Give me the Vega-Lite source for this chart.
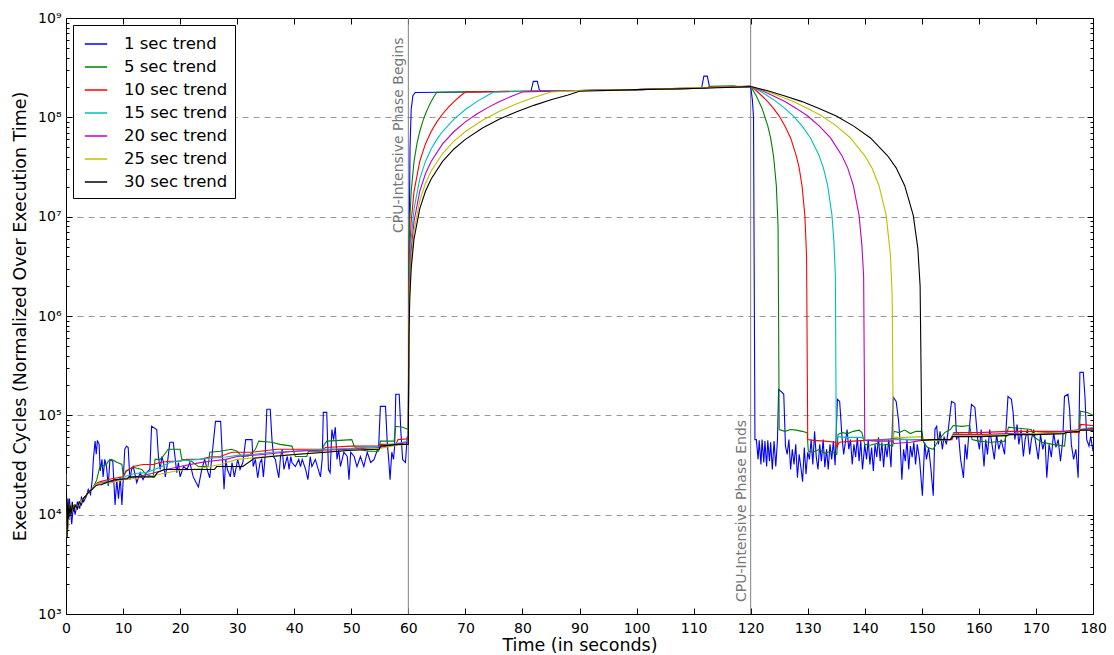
{
  "$schema": "https://vega.github.io/schema/vega-lite/v6.json",
  "width": 1027,
  "height": 596,
  "autosize": {"type": "none"},
  "padding": {"left": 66, "top": 18, "right": 21, "bottom": 41},
  "background": "white",
  "config": {
    "font": "DejaVu Sans",
    "view": {"stroke": "black", "strokeWidth": 1},
    "axis": {"labelFont": "DejaVu Sans", "titleFont": "DejaVu Sans", "labelColor": "black", "titleColor": "black", "tickColor": "black", "domain": false, "labelFlush": false, "labelOverlap": false, "titleFontWeight": "normal"}
  },
  "datasets": {
    "series": [
      {"n":1,"t":0,"v":12500},{"n":1,"t":0.3,"v":9000},{"n":1,"t":0.6,"v":14500},{"n":1,"t":1.0,"v":8000},{"n":1,"t":1.3,"v":12500},{"n":1,"t":1.6,"v":10000},{"n":1,"t":2.0,"v":13500},{"n":1,"t":2.4,"v":11500},{"n":1,"t":2.7,"v":15000},{"n":1,"t":3.1,"v":13500},{"n":1,"t":3.6,"v":15500},{"n":1,"t":3.9,"v":18000},{"n":1,"t":4.3,"v":16000},{"n":1,"t":4.6,"v":22500},{"n":1,"t":4.8,"v":36000},{"n":1,"t":5.1,"v":55000},{"n":1,"t":5.3,"v":40500},{"n":1,"t":5.5,"v":56000},{"n":1,"t":5.8,"v":51000},{"n":1,"t":6.0,"v":27500},{"n":1,"t":6.3,"v":36000},{"n":1,"t":6.5,"v":24000},{"n":1,"t":6.8,"v":36000},{"n":1,"t":7.1,"v":30500},{"n":1,"t":7.4,"v":19500},{"n":1,"t":7.7,"v":36000},{"n":1,"t":8.2,"v":34500},{"n":1,"t":8.6,"v":12500},{"n":1,"t":8.9,"v":22500},{"n":1,"t":9.2,"v":14500},{"n":1,"t":9.5,"v":24000},{"n":1,"t":9.8,"v":12500},{"n":1,"t":10.3,"v":45500},{"n":1,"t":10.6,"v":49000},{"n":1,"t":10.9,"v":47500},{"n":1,"t":11.2,"v":22500},{"n":1,"t":11.5,"v":28500},{"n":1,"t":11.8,"v":30500},{"n":1,"t":12.4,"v":21000},{"n":1,"t":13.0,"v":26500},{"n":1,"t":13.5,"v":22500},{"n":1,"t":14.1,"v":26500},{"n":1,"t":14.7,"v":28500},{"n":1,"t":15.0,"v":77500},{"n":1,"t":15.9,"v":72000},{"n":1,"t":16.2,"v":38500},{"n":1,"t":16.5,"v":28500},{"n":1,"t":16.8,"v":38500},{"n":1,"t":17.1,"v":33500},{"n":1,"t":17.4,"v":24000},{"n":1,"t":17.7,"v":30500},{"n":1,"t":18.2,"v":53500},{"n":1,"t":18.8,"v":53500},{"n":1,"t":19.1,"v":38500},{"n":1,"t":19.4,"v":26500},{"n":1,"t":19.7,"v":33500},{"n":1,"t":20.0,"v":24000},{"n":1,"t":20.6,"v":30500},{"n":1,"t":21.2,"v":28500},{"n":1,"t":21.7,"v":33500},{"n":1,"t":22.3,"v":24000},{"n":1,"t":23.2,"v":19000},{"n":1,"t":23.8,"v":28500},{"n":1,"t":24.3,"v":36000},{"n":1,"t":24.9,"v":26500},{"n":1,"t":25.2,"v":23500},{"n":1,"t":26.2,"v":87000},{"n":1,"t":27.1,"v":87000},{"n":1,"t":27.4,"v":38500},{"n":1,"t":27.7,"v":18000},{"n":1,"t":28.0,"v":36000},{"n":1,"t":28.3,"v":28500},{"n":1,"t":28.8,"v":24000},{"n":1,"t":29.1,"v":33500},{"n":1,"t":29.5,"v":24000},{"n":1,"t":30.1,"v":36000},{"n":1,"t":30.5,"v":28500},{"n":1,"t":31.0,"v":33500},{"n":1,"t":31.5,"v":57000},{"n":1,"t":32.6,"v":57000},{"n":1,"t":32.8,"v":30500},{"n":1,"t":33.2,"v":36000},{"n":1,"t":33.6,"v":23500},{"n":1,"t":34.0,"v":33500},{"n":1,"t":34.3,"v":36000},{"n":1,"t":34.6,"v":24000},{"n":1,"t":34.9,"v":38500},{"n":1,"t":35.2,"v":115000},{"n":1,"t":35.8,"v":115000},{"n":1,"t":36.1,"v":57000},{"n":1,"t":36.4,"v":38000},{"n":1,"t":36.7,"v":36000},{"n":1,"t":37.0,"v":28500},{"n":1,"t":37.3,"v":23500},{"n":1,"t":37.6,"v":38500},{"n":1,"t":37.9,"v":45500},{"n":1,"t":38.2,"v":28500},{"n":1,"t":38.5,"v":33500},{"n":1,"t":38.8,"v":38500},{"n":1,"t":39.1,"v":28500},{"n":1,"t":39.4,"v":38500},{"n":1,"t":39.6,"v":33500},{"n":1,"t":40.2,"v":30500},{"n":1,"t":40.8,"v":36000},{"n":1,"t":41.1,"v":30500},{"n":1,"t":41.4,"v":36000},{"n":1,"t":42.0,"v":28500},{"n":1,"t":42.4,"v":22500},{"n":1,"t":42.8,"v":38500},{"n":1,"t":43.1,"v":30500},{"n":1,"t":43.7,"v":36000},{"n":1,"t":44.6,"v":24000},{"n":1,"t":44.9,"v":36000},{"n":1,"t":45.1,"v":107000},{"n":1,"t":45.7,"v":107000},{"n":1,"t":46.0,"v":28500},{"n":1,"t":46.3,"v":26500},{"n":1,"t":46.6,"v":72000},{"n":1,"t":46.9,"v":57000},{"n":1,"t":47.2,"v":76000},{"n":1,"t":47.5,"v":36000},{"n":1,"t":47.8,"v":45500},{"n":1,"t":48.1,"v":30500},{"n":1,"t":48.7,"v":42500},{"n":1,"t":49.3,"v":38500},{"n":1,"t":49.6,"v":22500},{"n":1,"t":49.9,"v":42500},{"n":1,"t":50.5,"v":38500},{"n":1,"t":51.0,"v":30500},{"n":1,"t":51.6,"v":38500},{"n":1,"t":52.2,"v":30500},{"n":1,"t":52.8,"v":42500},{"n":1,"t":53.4,"v":33500},{"n":1,"t":54.0,"v":36000},{"n":1,"t":54.8,"v":49000},{"n":1,"t":55.1,"v":123000},{"n":1,"t":56.0,"v":123000},{"n":1,"t":56.3,"v":53500},{"n":1,"t":56.6,"v":33500},{"n":1,"t":56.8,"v":22500},{"n":1,"t":57.1,"v":42500},{"n":1,"t":57.4,"v":36000},{"n":1,"t":57.6,"v":49000},{"n":1,"t":57.8,"v":163000},{"n":1,"t":58.4,"v":163000},{"n":1,"t":58.7,"v":67000},{"n":1,"t":59.0,"v":36000},{"n":1,"t":59.5,"v":33500},{"n":1,"t":59.8,"v":61000},{"n":1,"t":60.0,"v":57000},
      {"n":1,"t":60.1,"v":3000000},{"n":1,"t":60.3,"v":50000000},{"n":1,"t":60.5,"v":120000000},{"n":1,"t":60.8,"v":165000000},{"n":1,"t":61.2,"v":178000000},{"n":1,"t":70,"v":180000000},{"n":1,"t":81.5,"v":183000000},{"n":1,"t":81.9,"v":230000000},{"n":1,"t":82.6,"v":230000000},{"n":1,"t":83.0,"v":185000000},{"n":1,"t":90,"v":186000000},{"n":1,"t":100,"v":190000000},{"n":1,"t":111.4,"v":196000000},{"n":1,"t":111.8,"v":260000000},{"n":1,"t":112.4,"v":260000000},{"n":1,"t":112.8,"v":200000000},{"n":1,"t":120,"v":205000000},{"n":1,"t":120.3,"v":150000000},{"n":1,"t":120.5,"v":100000000},{"n":1,"t":120.75,"v":57000},
      {"n":1,"t":121.0,"v":57000},{"n":1,"t":121.3,"v":36000},{"n":1,"t":121.5,"v":56000},{"n":1,"t":121.8,"v":32000},{"n":1,"t":122.0,"v":57000},{"n":1,"t":122.3,"v":33500},{"n":1,"t":122.5,"v":55000},{"n":1,"t":122.8,"v":30500},{"n":1,"t":123.0,"v":56000},{"n":1,"t":123.3,"v":34500},{"n":1,"t":123.5,"v":53500},{"n":1,"t":123.8,"v":28500},{"n":1,"t":124.1,"v":55000},{"n":1,"t":124.4,"v":30500},{"n":1,"t":124.7,"v":57000},{"n":1,"t":124.9,"v":183000},{"n":1,"t":125.5,"v":170000},{"n":1,"t":125.8,"v":163000},{"n":1,"t":126.1,"v":49000},{"n":1,"t":126.4,"v":40500},{"n":1,"t":126.7,"v":57000},{"n":1,"t":127.0,"v":28500},{"n":1,"t":127.3,"v":45500},{"n":1,"t":127.6,"v":32000},{"n":1,"t":127.9,"v":51000},{"n":1,"t":128.2,"v":23500},{"n":1,"t":128.5,"v":40500},{"n":1,"t":128.8,"v":30000},{"n":1,"t":129.1,"v":21500},{"n":1,"t":129.4,"v":47500},{"n":1,"t":129.7,"v":25500},{"n":1,"t":130.0,"v":42500},{"n":1,"t":130.3,"v":36000},{"n":1,"t":130.6,"v":57000},{"n":1,"t":130.9,"v":32000},{"n":1,"t":131.2,"v":69000},{"n":1,"t":131.5,"v":38000},{"n":1,"t":131.8,"v":28500},{"n":1,"t":132.1,"v":51000},{"n":1,"t":132.4,"v":34500},{"n":1,"t":132.7,"v":57000},{"n":1,"t":133.0,"v":30000},{"n":1,"t":133.3,"v":45500},{"n":1,"t":133.6,"v":28500},{"n":1,"t":133.9,"v":51000},{"n":1,"t":134.2,"v":36000},{"n":1,"t":134.5,"v":55000},{"n":1,"t":134.8,"v":31500},{"n":1,"t":135.2,"v":145000},{"n":1,"t":135.6,"v":138000},{"n":1,"t":136.0,"v":61000},{"n":1,"t":136.3,"v":40500},{"n":1,"t":136.6,"v":53500},{"n":1,"t":136.9,"v":72000},{"n":1,"t":137.2,"v":45500},{"n":1,"t":137.5,"v":57000},{"n":1,"t":137.8,"v":32000},{"n":1,"t":138.1,"v":51000},{"n":1,"t":138.4,"v":38000},{"n":1,"t":138.7,"v":60000},{"n":1,"t":139.0,"v":34500},{"n":1,"t":139.3,"v":55000},{"n":1,"t":139.6,"v":28500},{"n":1,"t":140.0,"v":51000},{"n":1,"t":140.3,"v":36000},{"n":1,"t":140.6,"v":57000},{"n":1,"t":140.9,"v":32000},{"n":1,"t":141.2,"v":47500},{"n":1,"t":141.5,"v":27500},{"n":1,"t":141.8,"v":51000},{"n":1,"t":142.1,"v":38000},{"n":1,"t":142.4,"v":60000},{"n":1,"t":142.7,"v":34500},{"n":1,"t":143.0,"v":53500},{"n":1,"t":143.3,"v":30000},{"n":1,"t":143.6,"v":51000},{"n":1,"t":143.9,"v":38000},{"n":1,"t":144.2,"v":57000},{"n":1,"t":144.6,"v":30000},{"n":1,"t":145.0,"v":152000},{"n":1,"t":145.5,"v":138000},{"n":1,"t":145.9,"v":91000},{"n":1,"t":146.2,"v":53500},{"n":1,"t":146.5,"v":22500},{"n":1,"t":146.8,"v":45500},{"n":1,"t":147.1,"v":34500},{"n":1,"t":147.4,"v":57000},{"n":1,"t":147.7,"v":28500},{"n":1,"t":148.0,"v":49000},{"n":1,"t":148.3,"v":38000},{"n":1,"t":148.6,"v":53500},{"n":1,"t":148.9,"v":32000},{"n":1,"t":149.2,"v":51000},{"n":1,"t":149.6,"v":36000},{"n":1,"t":150.1,"v":15500},{"n":1,"t":150.5,"v":53500},{"n":1,"t":150.8,"v":36000},{"n":1,"t":151.2,"v":47500},{"n":1,"t":151.6,"v":28500},{"n":1,"t":152.0,"v":15500},{"n":1,"t":152.3,"v":72000},{"n":1,"t":152.6,"v":77500},{"n":1,"t":152.9,"v":51000},{"n":1,"t":153.2,"v":69000},{"n":1,"t":153.6,"v":45500},{"n":1,"t":153.9,"v":61000},{"n":1,"t":154.3,"v":51000},{"n":1,"t":154.6,"v":69000},{"n":1,"t":155.2,"v":138000},{"n":1,"t":155.8,"v":132000},{"n":1,"t":156.1,"v":57000},{"n":1,"t":156.4,"v":67000},{"n":1,"t":156.8,"v":36000},{"n":1,"t":157.3,"v":23500},{"n":1,"t":157.6,"v":51000},{"n":1,"t":157.9,"v":36000},{"n":1,"t":158.2,"v":61000},{"n":1,"t":158.7,"v":129000},{"n":1,"t":159.3,"v":120000},{"n":1,"t":159.8,"v":57000},{"n":1,"t":160.1,"v":45500},{"n":1,"t":160.4,"v":72000},{"n":1,"t":160.9,"v":30500},{"n":1,"t":161.2,"v":57000},{"n":1,"t":161.5,"v":40500},{"n":1,"t":161.9,"v":72000},{"n":1,"t":162.3,"v":51000},{"n":1,"t":162.7,"v":36000},{"n":1,"t":163.1,"v":64000},{"n":1,"t":163.5,"v":45500},{"n":1,"t":163.9,"v":57000},{"n":1,"t":164.5,"v":40500},{"n":1,"t":165.1,"v":155000},{"n":1,"t":165.7,"v":145000},{"n":1,"t":166.0,"v":107000},{"n":1,"t":166.3,"v":57000},{"n":1,"t":166.7,"v":81000},{"n":1,"t":167.0,"v":51000},{"n":1,"t":167.4,"v":72000},{"n":1,"t":167.8,"v":38500},{"n":1,"t":168.1,"v":57000},{"n":1,"t":168.5,"v":72000},{"n":1,"t":168.9,"v":40500},{"n":1,"t":169.2,"v":57000},{"n":1,"t":169.6,"v":72000},{"n":1,"t":170.0,"v":51000},{"n":1,"t":170.4,"v":36000},{"n":1,"t":170.8,"v":64000},{"n":1,"t":171.2,"v":45500},{"n":1,"t":171.6,"v":57000},{"n":1,"t":171.9,"v":23500},{"n":1,"t":172.3,"v":51000},{"n":1,"t":172.7,"v":38000},{"n":1,"t":173.1,"v":67000},{"n":1,"t":173.5,"v":47500},{"n":1,"t":173.9,"v":57000},{"n":1,"t":174.3,"v":34500},{"n":1,"t":174.7,"v":57000},{"n":1,"t":175.0,"v":155000},{"n":1,"t":175.6,"v":163000},{"n":1,"t":175.9,"v":115000},{"n":1,"t":176.2,"v":51000},{"n":1,"t":176.6,"v":36000},{"n":1,"t":177.0,"v":45500},{"n":1,"t":177.4,"v":23500},{"n":1,"t":177.7,"v":271000},{"n":1,"t":178.3,"v":271000},{"n":1,"t":178.6,"v":152000},{"n":1,"t":178.9,"v":57000},{"n":1,"t":179.3,"v":49000},{"n":1,"t":179.6,"v":61000},{"n":1,"t":180.0,"v":43500},

      {"n":5,"t":0,"v":25500},{"n":5,"t":0.2,"v":6000},{"n":5,"t":0.5,"v":12500},{"n":5,"t":1.0,"v":10800},{"n":5,"t":1.5,"v":12500},{"n":5,"t":2.0,"v":11500},{"n":5,"t":2.5,"v":13500},{"n":5,"t":3.0,"v":14500},{"n":5,"t":3.5,"v":15500},{"n":5,"t":4.0,"v":17000},{"n":5,"t":4.5,"v":18000},{"n":5,"t":5.0,"v":20000},{"n":5,"t":5.4,"v":22500},{"n":5,"t":5.9,"v":30000},{"n":5,"t":7.1,"v":32000},{"n":5,"t":7.4,"v":34500},{"n":5,"t":8.0,"v":36000},{"n":5,"t":9.0,"v":33500},{"n":5,"t":9.8,"v":32000},{"n":5,"t":10.05,"v":24000},{"n":5,"t":10.5,"v":27500},{"n":5,"t":11.8,"v":30000},{"n":5,"t":13.3,"v":28500},{"n":5,"t":14.0,"v":25500},{"n":5,"t":15.3,"v":24000},{"n":5,"t":15.6,"v":36000},{"n":5,"t":16.5,"v":36000},{"n":5,"t":17.0,"v":38500},{"n":5,"t":17.9,"v":45500},{"n":5,"t":20.0,"v":45500},{"n":5,"t":20.3,"v":36000},{"n":5,"t":22.0,"v":34500},{"n":5,"t":23.2,"v":30500},{"n":5,"t":24.9,"v":30500},{"n":5,"t":25.2,"v":42500},{"n":5,"t":27.0,"v":43500},{"n":5,"t":29.0,"v":45500},{"n":5,"t":30.0,"v":43500},{"n":5,"t":30.8,"v":38500},{"n":5,"t":32.0,"v":39000},{"n":5,"t":33.2,"v":45500},{"n":5,"t":33.8,"v":55000},{"n":5,"t":36.0,"v":53500},{"n":5,"t":37.5,"v":51000},{"n":5,"t":39.6,"v":49000},{"n":5,"t":40.2,"v":38500},{"n":5,"t":42.2,"v":38500},{"n":5,"t":42.5,"v":43500},{"n":5,"t":45.0,"v":43500},{"n":5,"t":45.1,"v":49000},{"n":5,"t":45.7,"v":55000},{"n":5,"t":48.0,"v":56000},{"n":5,"t":50.1,"v":57000},{"n":5,"t":50.5,"v":49000},{"n":5,"t":51.3,"v":45500},{"n":5,"t":53.0,"v":43500},{"n":5,"t":54.8,"v":43500},{"n":5,"t":55.1,"v":55000},{"n":5,"t":57.5,"v":55000},{"n":5,"t":57.8,"v":77500},{"n":5,"t":59.0,"v":76000},{"n":5,"t":60.0,"v":72000},
      {"n":5,"t":60.1,"v":3600000},{"n":5,"t":60.25,"v":9000000},{"n":5,"t":60.5,"v":18000000},{"n":5,"t":61,"v":36000000},{"n":5,"t":61.5,"v":54000000},{"n":5,"t":62,"v":72000000},{"n":5,"t":62.5,"v":90000000},{"n":5,"t":63,"v":108000000},{"n":5,"t":63.5,"v":126000000},{"n":5,"t":64,"v":144000000},{"n":5,"t":64.5,"v":162000000},{"n":5,"t":65,"v":179000000},{"n":5,"t":90,"v":186000000},{"n":5,"t":100,"v":190000000},{"n":5,"t":112,"v":196000000},{"n":5,"t":113,"v":205000000},{"n":5,"t":117,"v":208000000},{"n":5,"t":118,"v":203000000},{"n":5,"t":120,"v":205000000},
      {"n":5,"t":121,"v":164000000},{"n":5,"t":122,"v":123000000},{"n":5,"t":123,"v":82000000},{"n":5,"t":123.5,"v":62000000},{"n":5,"t":124,"v":41000000},{"n":5,"t":124.5,"v":20500000},{"n":5,"t":124.8,"v":8000000},{"n":5,"t":125,"v":72000},{"n":5,"t":126,"v":69000},{"n":5,"t":127,"v":72000},{"n":5,"t":128,"v":71000},{"n":5,"t":129,"v":69000},{"n":5,"t":129.9,"v":67000},{"n":5,"t":130.1,"v":43500},{"n":5,"t":131,"v":42500},{"n":5,"t":132,"v":45500},{"n":5,"t":133,"v":41500},{"n":5,"t":134,"v":43500},{"n":5,"t":135.1,"v":40500},{"n":5,"t":135.3,"v":64000},{"n":5,"t":136,"v":67000},{"n":5,"t":137,"v":65500},{"n":5,"t":138,"v":69000},{"n":5,"t":139,"v":71000},{"n":5,"t":139.5,"v":67000},{"n":5,"t":140,"v":51000},{"n":5,"t":141,"v":50000},{"n":5,"t":142,"v":52000},{"n":5,"t":143,"v":50000},{"n":5,"t":144,"v":51000},{"n":5,"t":144.9,"v":49000},{"n":5,"t":145.1,"v":69000},{"n":5,"t":146,"v":67000},{"n":5,"t":147,"v":71000},{"n":5,"t":148,"v":65500},{"n":5,"t":149,"v":69000},{"n":5,"t":150,"v":69000},{"n":5,"t":150.3,"v":53500},{"n":5,"t":151,"v":47500},{"n":5,"t":152,"v":45500},{"n":5,"t":153,"v":57000},{"n":5,"t":154,"v":67000},{"n":5,"t":155,"v":72000},{"n":5,"t":155.5,"v":79000},{"n":5,"t":157,"v":77500},{"n":5,"t":158.4,"v":79000},{"n":5,"t":158.8,"v":57000},{"n":5,"t":160,"v":55000},{"n":5,"t":162,"v":53500},{"n":5,"t":164.5,"v":55000},{"n":5,"t":165.2,"v":76000},{"n":5,"t":167,"v":74000},{"n":5,"t":169.2,"v":72000},{"n":5,"t":169.6,"v":61000},{"n":5,"t":171,"v":53500},{"n":5,"t":173,"v":51000},{"n":5,"t":175,"v":49000},{"n":5,"t":175.3,"v":69000},{"n":5,"t":177.6,"v":69000},{"n":5,"t":177.8,"v":110000},{"n":5,"t":179,"v":107000},{"n":5,"t":180,"v":100000},

      {"n":10,"t":0,"v":25500},{"n":10,"t":0.2,"v":6000},{"n":10,"t":0.5,"v":12500},{"n":10,"t":1,"v":10800},{"n":10,"t":1.5,"v":12500},{"n":10,"t":2,"v":11500},{"n":10,"t":2.5,"v":13500},{"n":10,"t":3,"v":14500},{"n":10,"t":3.5,"v":15500},{"n":10,"t":4,"v":17000},{"n":10,"t":4.5,"v":18000},{"n":10,"t":5,"v":19500},{"n":10,"t":5.5,"v":21000},{"n":10,"t":6,"v":21500},{"n":10,"t":8,"v":23000},{"n":10,"t":10,"v":24000},{"n":10,"t":10.6,"v":27500},{"n":10,"t":11.8,"v":30500},{"n":10,"t":13.5,"v":32000},{"n":10,"t":15.3,"v":32000},{"n":10,"t":16.5,"v":33500},{"n":10,"t":18.2,"v":34500},{"n":10,"t":20,"v":34500},{"n":10,"t":21.1,"v":36000},{"n":10,"t":23.5,"v":36000},{"n":10,"t":25.2,"v":38000},{"n":10,"t":27,"v":38500},{"n":10,"t":29.1,"v":42500},{"n":10,"t":32.6,"v":42500},{"n":10,"t":34,"v":43500},{"n":10,"t":37,"v":45500},{"n":10,"t":45,"v":45500},{"n":10,"t":45.5,"v":47500},{"n":10,"t":50,"v":49000},{"n":10,"t":54.8,"v":49000},{"n":10,"t":55.1,"v":51000},{"n":10,"t":57.8,"v":51000},{"n":10,"t":58.2,"v":57000},{"n":10,"t":60,"v":58000},
      {"n":10,"t":60.1,"v":1800000},{"n":10,"t":60.25,"v":4500000},{"n":10,"t":60.5,"v":9000000},{"n":10,"t":61,"v":18000000},{"n":10,"t":62,"v":36000000},{"n":10,"t":63,"v":54000000},{"n":10,"t":64,"v":72000000},{"n":10,"t":65,"v":90000000},{"n":10,"t":66,"v":108000000},{"n":10,"t":67,"v":126000000},{"n":10,"t":68,"v":144000000},{"n":10,"t":69,"v":162000000},{"n":10,"t":70,"v":180000000},{"n":10,"t":90,"v":186000000},{"n":10,"t":100,"v":190000000},{"n":10,"t":112,"v":196000000},{"n":10,"t":113,"v":203000000},{"n":10,"t":120,"v":205000000},
      {"n":10,"t":121,"v":185000000},{"n":10,"t":122,"v":164000000},{"n":10,"t":123,"v":144000000},{"n":10,"t":124,"v":123000000},{"n":10,"t":125,"v":103000000},{"n":10,"t":126,"v":82000000},{"n":10,"t":127,"v":62000000},{"n":10,"t":128,"v":41000000},{"n":10,"t":128.5,"v":31000000},{"n":10,"t":129,"v":20500000},{"n":10,"t":129.5,"v":10300000},{"n":10,"t":129.8,"v":4000000},{"n":10,"t":130,"v":57000},{"n":10,"t":131,"v":56000},{"n":10,"t":133,"v":55000},{"n":10,"t":134.9,"v":53500},{"n":10,"t":135.1,"v":47500},{"n":10,"t":135.5,"v":53500},{"n":10,"t":138,"v":55000},{"n":10,"t":140,"v":56000},{"n":10,"t":143,"v":57000},{"n":10,"t":145,"v":58000},{"n":10,"t":148,"v":57000},{"n":10,"t":153,"v":57000},{"n":10,"t":155.3,"v":57000},{"n":10,"t":155.6,"v":67000},{"n":10,"t":160,"v":67000},{"n":10,"t":165,"v":69000},{"n":10,"t":175,"v":69000},{"n":10,"t":177.6,"v":67000},{"n":10,"t":177.8,"v":81000},{"n":10,"t":180,"v":79000},

      {"n":15,"t":0,"v":25500},{"n":15,"t":0.2,"v":6000},{"n":15,"t":0.5,"v":12500},{"n":15,"t":1,"v":10800},{"n":15,"t":1.5,"v":12500},{"n":15,"t":2,"v":11500},{"n":15,"t":2.5,"v":13500},{"n":15,"t":3,"v":14500},{"n":15,"t":3.5,"v":15500},{"n":15,"t":4,"v":17000},{"n":15,"t":4.5,"v":18000},{"n":15,"t":5,"v":19500},{"n":15,"t":5.5,"v":20500},{"n":15,"t":7,"v":21500},{"n":15,"t":9,"v":22500},{"n":15,"t":10.6,"v":24500},{"n":15,"t":12,"v":26000},{"n":15,"t":14.1,"v":26500},{"n":15,"t":15.5,"v":28500},{"n":15,"t":16.5,"v":30000},{"n":15,"t":18.2,"v":33500},{"n":15,"t":20,"v":35000},{"n":15,"t":23.5,"v":36000},{"n":15,"t":25.2,"v":37000},{"n":15,"t":28,"v":38000},{"n":15,"t":30,"v":39500},{"n":15,"t":33,"v":40500},{"n":15,"t":36,"v":42500},{"n":15,"t":40,"v":43500},{"n":15,"t":45,"v":45500},{"n":15,"t":50,"v":46500},{"n":15,"t":55,"v":49000},{"n":15,"t":58,"v":52000},{"n":15,"t":60,"v":55000},
      {"n":15,"t":60.1,"v":1200000},{"n":15,"t":60.25,"v":3000000},{"n":15,"t":60.5,"v":6000000},{"n":15,"t":61,"v":12000000},{"n":15,"t":62,"v":24000000},{"n":15,"t":63,"v":36000000},{"n":15,"t":64,"v":48000000},{"n":15,"t":65,"v":60000000},{"n":15,"t":66,"v":72000000},{"n":15,"t":68,"v":96000000},{"n":15,"t":70,"v":120000000},{"n":15,"t":72,"v":144000000},{"n":15,"t":74,"v":168000000},{"n":15,"t":75,"v":180000000},{"n":15,"t":90,"v":186000000},{"n":15,"t":100,"v":190000000},{"n":15,"t":120,"v":205000000},
      {"n":15,"t":121.5,"v":185000000},{"n":15,"t":123,"v":164000000},{"n":15,"t":124.5,"v":144000000},{"n":15,"t":126,"v":123000000},{"n":15,"t":127.5,"v":103000000},{"n":15,"t":129,"v":82000000},{"n":15,"t":130.5,"v":62000000},{"n":15,"t":132,"v":41000000},{"n":15,"t":132.75,"v":31000000},{"n":15,"t":133.5,"v":20500000},{"n":15,"t":134.25,"v":10300000},{"n":15,"t":134.6,"v":5500000},{"n":15,"t":134.85,"v":2500000},{"n":15,"t":135,"v":61000},{"n":15,"t":137,"v":60000},{"n":15,"t":139.5,"v":60000},{"n":15,"t":140,"v":56000},{"n":15,"t":142,"v":56000},{"n":15,"t":145,"v":57000},{"n":15,"t":148,"v":57000},{"n":15,"t":152,"v":56000},{"n":15,"t":155,"v":57000},{"n":15,"t":155.5,"v":65500},{"n":15,"t":160,"v":62500},{"n":15,"t":165,"v":64000},{"n":15,"t":170,"v":65500},{"n":15,"t":175,"v":67000},{"n":15,"t":177.8,"v":72000},{"n":15,"t":180,"v":76000},

      {"n":20,"t":0,"v":25500},{"n":20,"t":0.2,"v":6000},{"n":20,"t":0.5,"v":12500},{"n":20,"t":1,"v":10800},{"n":20,"t":1.5,"v":12500},{"n":20,"t":2,"v":11500},{"n":20,"t":2.5,"v":13500},{"n":20,"t":3,"v":14500},{"n":20,"t":3.5,"v":15500},{"n":20,"t":4,"v":17000},{"n":20,"t":4.5,"v":18000},{"n":20,"t":5,"v":19500},{"n":20,"t":5.5,"v":20500},{"n":20,"t":8,"v":21500},{"n":20,"t":10,"v":23000},{"n":20,"t":13,"v":24500},{"n":20,"t":15,"v":26000},{"n":20,"t":17,"v":28000},{"n":20,"t":20,"v":30500},{"n":20,"t":23,"v":33000},{"n":20,"t":25.2,"v":34500},{"n":20,"t":28,"v":36000},{"n":20,"t":30,"v":38500},{"n":20,"t":35,"v":40500},{"n":20,"t":40,"v":43500},{"n":20,"t":45,"v":44500},{"n":20,"t":50,"v":45500},{"n":20,"t":55,"v":47500},{"n":20,"t":58,"v":51000},{"n":20,"t":60,"v":53500},
      {"n":20,"t":60.1,"v":900000},{"n":20,"t":60.25,"v":2250000},{"n":20,"t":60.5,"v":4500000},{"n":20,"t":61,"v":9000000},{"n":20,"t":62,"v":18000000},{"n":20,"t":63,"v":27000000},{"n":20,"t":64,"v":36000000},{"n":20,"t":66,"v":54000000},{"n":20,"t":68,"v":72000000},{"n":20,"t":70,"v":90000000},{"n":20,"t":72,"v":108000000},{"n":20,"t":74,"v":126000000},{"n":20,"t":76,"v":144000000},{"n":20,"t":78,"v":162000000},{"n":20,"t":80,"v":180000000},{"n":20,"t":90,"v":186000000},{"n":20,"t":100,"v":190000000},{"n":20,"t":120,"v":205000000},
      {"n":20,"t":122,"v":185000000},{"n":20,"t":124,"v":164000000},{"n":20,"t":126,"v":144000000},{"n":20,"t":128,"v":123000000},{"n":20,"t":130,"v":103000000},{"n":20,"t":132,"v":82000000},{"n":20,"t":134,"v":62000000},{"n":20,"t":136,"v":41000000},{"n":20,"t":137,"v":31000000},{"n":20,"t":138,"v":20500000},{"n":20,"t":139,"v":10300000},{"n":20,"t":139.5,"v":5100000},{"n":20,"t":139.8,"v":2500000},{"n":20,"t":140,"v":56000},{"n":20,"t":142,"v":55000},{"n":20,"t":144.9,"v":55000},{"n":20,"t":145.1,"v":52000},{"n":20,"t":148,"v":53500},{"n":20,"t":150,"v":56000},{"n":20,"t":155,"v":57000},{"n":20,"t":155.5,"v":64000},{"n":20,"t":160,"v":64000},{"n":20,"t":165,"v":65500},{"n":20,"t":170,"v":65500},{"n":20,"t":175,"v":69000},{"n":20,"t":177.8,"v":72000},{"n":20,"t":180,"v":74000},

      {"n":25,"t":0,"v":25500},{"n":25,"t":0.2,"v":6000},{"n":25,"t":0.5,"v":12500},{"n":25,"t":1,"v":10800},{"n":25,"t":1.5,"v":12500},{"n":25,"t":2,"v":11500},{"n":25,"t":2.5,"v":13500},{"n":25,"t":3,"v":14500},{"n":25,"t":3.5,"v":15500},{"n":25,"t":4,"v":17000},{"n":25,"t":4.5,"v":18000},{"n":25,"t":5,"v":19500},{"n":25,"t":5.5,"v":20500},{"n":25,"t":8,"v":21000},{"n":25,"t":10,"v":22500},{"n":25,"t":13,"v":23500},{"n":25,"t":15,"v":24500},{"n":25,"t":17,"v":26000},{"n":25,"t":20,"v":28000},{"n":25,"t":23,"v":29000},{"n":25,"t":25.2,"v":30500},{"n":25,"t":27,"v":32000},{"n":25,"t":30,"v":36000},{"n":25,"t":35,"v":38500},{"n":25,"t":40,"v":40500},{"n":25,"t":45,"v":42500},{"n":25,"t":50,"v":44500},{"n":25,"t":55,"v":46500},{"n":25,"t":58,"v":50000},{"n":25,"t":60,"v":51000},
      {"n":25,"t":60.1,"v":720000},{"n":25,"t":60.25,"v":1800000},{"n":25,"t":60.5,"v":3600000},{"n":25,"t":61,"v":7200000},{"n":25,"t":62,"v":14400000},{"n":25,"t":63,"v":21600000},{"n":25,"t":64,"v":28800000},{"n":25,"t":66,"v":43200000},{"n":25,"t":68,"v":57600000},{"n":25,"t":70,"v":72000000},{"n":25,"t":73,"v":93600000},{"n":25,"t":76,"v":115000000},{"n":25,"t":79,"v":137000000},{"n":25,"t":82,"v":158000000},{"n":25,"t":85,"v":180000000},{"n":25,"t":90,"v":186000000},{"n":25,"t":100,"v":190000000},{"n":25,"t":120,"v":205000000},
      {"n":25,"t":122.5,"v":185000000},{"n":25,"t":125,"v":164000000},{"n":25,"t":127.5,"v":144000000},{"n":25,"t":130,"v":123000000},{"n":25,"t":132.5,"v":103000000},{"n":25,"t":135,"v":82000000},{"n":25,"t":137.5,"v":62000000},{"n":25,"t":140,"v":41000000},{"n":25,"t":141.25,"v":31000000},{"n":25,"t":142.5,"v":20500000},{"n":25,"t":143.75,"v":10300000},{"n":25,"t":144.5,"v":4100000},{"n":25,"t":144.8,"v":1600000},{"n":25,"t":145,"v":60000},{"n":25,"t":147,"v":60000},{"n":25,"t":149.9,"v":61000},{"n":25,"t":150.1,"v":56000},{"n":25,"t":152,"v":56000},{"n":25,"t":155,"v":57000},{"n":25,"t":155.5,"v":62500},{"n":25,"t":160,"v":62500},{"n":25,"t":165,"v":64000},{"n":25,"t":170,"v":65500},{"n":25,"t":175,"v":67000},{"n":25,"t":177.8,"v":71000},{"n":25,"t":180,"v":72000},

      {"n":30,"t":0,"v":25500},{"n":30,"t":0.1,"v":14500},{"n":30,"t":0.2,"v":6000},{"n":30,"t":0.35,"v":14500},{"n":30,"t":0.5,"v":9000},{"n":30,"t":0.7,"v":12500},{"n":30,"t":0.9,"v":10000},{"n":30,"t":1.1,"v":13500},{"n":30,"t":1.3,"v":10800},{"n":30,"t":1.6,"v":12500},{"n":30,"t":2,"v":11500},{"n":30,"t":2.3,"v":13500},{"n":30,"t":2.7,"v":12500},{"n":30,"t":3,"v":14500},{"n":30,"t":3.5,"v":15500},{"n":30,"t":4,"v":17000},{"n":30,"t":4.6,"v":18000},{"n":30,"t":5.2,"v":19500},{"n":30,"t":5.7,"v":20000},{"n":30,"t":6.2,"v":20000},{"n":30,"t":7,"v":21000},{"n":30,"t":8.5,"v":22500},{"n":30,"t":10.8,"v":23000},{"n":30,"t":11,"v":24000},{"n":30,"t":15.5,"v":24000},{"n":30,"t":16,"v":26500},{"n":30,"t":17.2,"v":28500},{"n":30,"t":26,"v":28500},{"n":30,"t":26.4,"v":30500},{"n":30,"t":31,"v":30500},{"n":30,"t":33,"v":37000},{"n":30,"t":36,"v":38500},{"n":30,"t":40.8,"v":40500},{"n":30,"t":45.5,"v":42500},{"n":30,"t":50,"v":44500},{"n":30,"t":54.9,"v":45500},{"n":30,"t":55.1,"v":49000},{"n":30,"t":58.3,"v":51000},{"n":30,"t":60,"v":51000},
      {"n":30,"t":60.1,"v":600000},{"n":30,"t":60.25,"v":1500000},{"n":30,"t":60.5,"v":3000000},{"n":30,"t":61,"v":6000000},{"n":30,"t":62,"v":12000000},{"n":30,"t":63,"v":18000000},{"n":30,"t":64,"v":24000000},{"n":30,"t":66,"v":36000000},{"n":30,"t":68,"v":48000000},{"n":30,"t":70,"v":60000000},{"n":30,"t":73,"v":78000000},{"n":30,"t":76,"v":96000000},{"n":30,"t":79,"v":114000000},{"n":30,"t":82,"v":132000000},{"n":30,"t":85,"v":150000000},{"n":30,"t":88,"v":168000000},{"n":30,"t":90,"v":183000000},{"n":30,"t":100,"v":190000000},{"n":30,"t":110,"v":195000000},{"n":30,"t":120,"v":204000000},
      {"n":30,"t":123,"v":185000000},{"n":30,"t":126,"v":164000000},{"n":30,"t":129,"v":144000000},{"n":30,"t":132,"v":123000000},{"n":30,"t":135,"v":103000000},{"n":30,"t":138,"v":82000000},{"n":30,"t":141,"v":62000000},{"n":30,"t":144,"v":41000000},{"n":30,"t":145.5,"v":31000000},{"n":30,"t":147,"v":20500000},{"n":30,"t":148.5,"v":10300000},{"n":30,"t":149.3,"v":4800000},{"n":30,"t":149.7,"v":2000000},{"n":30,"t":150,"v":56000},{"n":30,"t":152,"v":57000},{"n":30,"t":155,"v":57000},{"n":30,"t":155.4,"v":61000},{"n":30,"t":160,"v":61000},{"n":30,"t":165,"v":62500},{"n":30,"t":165.3,"v":64000},{"n":30,"t":170,"v":64000},{"n":30,"t":175,"v":65500},{"n":30,"t":175.2,"v":67000},{"n":30,"t":177.6,"v":69000},{"n":30,"t":177.8,"v":71000},{"n":30,"t":180,"v":71000}
    ],
    "phases": [{"t": 60}, {"t": 120}],
    "notes": [
      {"t": 60, "v": 6850000, "label": "CPU-Intensive Phase Begins"},
      {"t": 120, "v": 1320, "label": "CPU-Intensive Phase Ends"}
    ]
  },
  "resolve": {"axis": {"x": "independent", "y": "independent"}},
  "layer": [
    {
      "data": {"name": "phases"},
      "mark": {"type": "rule", "color": "#808080", "strokeWidth": 1},
      "encoding": {
        "x": {"field": "t", "type": "quantitative", "scale": {"domain": [0, 180], "nice": false}, "axis": null}
      }
    },
    {
      "data": {"name": "series"},
      "mark": {"type": "line", "strokeWidth": 1.1, "clip": true},
      "encoding": {
        "x": {
          "field": "t", "type": "quantitative",
          "scale": {"domain": [0, 180], "nice": false},
          "axis": {
            "orient": "bottom",
            "values": [0,10,20,30,40,50,60,70,80,90,100,110,120,130,140,150,160,170,180],
            "tickSize": -6, "labelPadding": 13, "labelFontSize": 14, "grid": false,
            "title": "Time (in seconds)", "titleFontSize": 17.5, "titlePadding": 1
          }
        },
        "y": {
          "field": "v", "type": "quantitative",
          "scale": {"type": "log", "domain": [1000, 1000000000], "nice": false},
          "axis": {
            "orient": "left",
            "values": [1000,2000,3000,4000,5000,6000,7000,8000,9000,10000,20000,30000,40000,50000,60000,70000,80000,90000,100000,200000,300000,400000,500000,600000,700000,800000,900000,1000000,2000000,3000000,4000000,5000000,6000000,7000000,8000000,9000000,10000000,20000000,30000000,40000000,50000000,60000000,70000000,80000000,90000000,100000000,200000000,300000000,400000000,500000000,600000000,700000000,800000000,900000000,1000000000],
            "labelExpr": "abs(log(datum.value)/LN10 - round(log(datum.value)/LN10)) < 0.01 ? '10' + ['⁰','¹','²','³','⁴','⁵','⁶','⁷','⁸','⁹'][round(log(datum.value)/LN10)] : ''",
            "tickSize": {"condition": {"test": "abs(log(datum.value)/LN10 - round(log(datum.value)/LN10)) < 0.01", "value": -6}, "value": -3},
            "labelPadding": 11, "labelFontSize": 14,
            "grid": true, "gridColor": "#999999", "gridDash": [6, 5], "gridWidth": 1,
            "gridOpacity": {"condition": {"test": "abs(log(datum.value)/LN10 - round(log(datum.value)/LN10)) < 0.01 && datum.value > 1500 && datum.value < 500000000", "value": 1}, "value": 0},
            "title": "Executed Cycles (Normalized Over Execution Time)", "titleFontSize": 17.5, "titlePadding": 8
          }
        },
        "color": {
          "field": "n", "type": "nominal",
          "scale": {"domain": [1, 5, 10, 15, 20, 25, 30], "range": ["#0000ff", "#008000", "#ff0000", "#00bfbf", "#bf00bf", "#bfbf00", "#000000"]},
          "legend": {
            "title": null, "orient": "top-left", "offset": 7,
            "labelExpr": "datum.label + ' sec trend'",
            "labelFont": "DejaVu Sans", "labelFontSize": 16.5, "labelColor": "black", "labelLimit": 300,
            "symbolType": "stroke", "symbolSize": 500, "symbolStrokeWidth": 1.5,
            "strokeColor": "black", "fillColor": "white", "padding": 7, "rowPadding": 2,
            "labelOffset": 16, "symbolOffset": 4, "cornerRadius": 0
          }
        }
      }
    },
    {
      "data": {"name": "notes"},
      "mark": {"type": "text", "angle": 270, "align": "left", "baseline": "alphabetic", "dy": -5, "fontSize": 14, "color": "#777777", "font": "DejaVu Sans"},
      "encoding": {
        "x": {
          "field": "t", "type": "quantitative", "scale": {"domain": [0, 180], "nice": false},
          "axis": {"orient": "top", "values": [0,10,20,30,40,50,60,70,80,90,100,110,120,130,140,150,160,170,180], "labels": false, "tickSize": -6, "grid": false, "title": null}
        },
        "y": {
          "field": "v", "type": "quantitative", "scale": {"type": "log", "domain": [1000, 1000000000], "nice": false},
          "axis": {
            "orient": "right",
            "values": [1000,2000,3000,4000,5000,6000,7000,8000,9000,10000,20000,30000,40000,50000,60000,70000,80000,90000,100000,200000,300000,400000,500000,600000,700000,800000,900000,1000000,2000000,3000000,4000000,5000000,6000000,7000000,8000000,9000000,10000000,20000000,30000000,40000000,50000000,60000000,70000000,80000000,90000000,100000000,200000000,300000000,400000000,500000000,600000000,700000000,800000000,900000000,1000000000],
            "labels": false, "grid": false, "title": null,
            "tickSize": {"condition": {"test": "abs(log(datum.value)/LN10 - round(log(datum.value)/LN10)) < 0.01", "value": -6}, "value": -3}
          }
        },
        "text": {"field": "label"}
      }
    }
  ]
}
